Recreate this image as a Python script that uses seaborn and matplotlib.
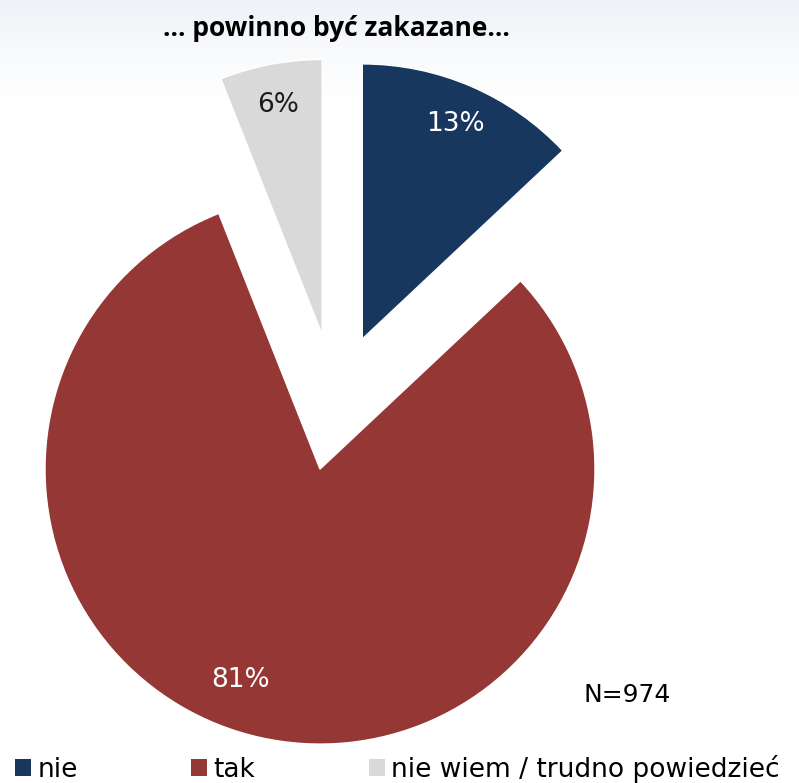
import numpy as np
import matplotlib
matplotlib.use("Agg")
import matplotlib.pyplot as plt
import seaborn as sns
from matplotlib.patches import Patch

sns.set_style("white")
plt.rcParams['font.family'] = ['DejaVu Sans']

# data
categories = ['nie', 'tak', 'nie wiem / trudno powiedzieć']
shares = [13, 81, 6]
colors = ['#17375e', '#953735', '#d9d9d9']
label_colors = ['white', 'white', '#1a1a1a']
title = '… powinno być zakazane…'
sample_note = 'N=974'

W, H = 799, 783
fig = plt.figure(figsize=(W / 100, H / 100), dpi=100)

# faint gradient band at the top, like the slide background
bg = fig.add_axes([0, 0, 1, 1])
grad = np.linspace(0, 1, 200).reshape(-1, 1)
alpha = np.clip(1 - grad / 0.13, 0, 1) ** 1.2
rgba = np.zeros((200, 1, 4))
rgba[..., 0] = 0.91
rgba[..., 1] = 0.93
rgba[..., 2] = 0.96
rgba[..., 3] = alpha * 0.7
bg.imshow(rgba, aspect='auto', extent=[0, 1, 0, 1])
bg.set_axis_off()

ax = fig.add_axes([0, 0, 1, 1])
r = 275.0
cx, cy = 335.0, 402.0
wedges, texts, autotexts = ax.pie(
    shares, colors=colors, startangle=90, counterclock=False,
    explode=[0.25] * 3, radius=1.0,
    autopct=lambda p: f'{p:.0f}%', pctdistance=0.85,
    textprops={'fontsize': 19},
)
for t, c in zip(autotexts, label_colors):
    t.set_color(c)

# the big slice's label sits a bit further round, as in the original
w = wedges[1]
ang = np.deg2rad((w.theta1 + w.theta2) / 2 - 8)
ox, oy = w.center
autotexts[1].set_position((ox + 0.82 * np.cos(ang), oy + 0.82 * np.sin(ang)))

ax.set_xlim(-cx / r, (W - cx) / r)
ax.set_ylim(-(H - cy) / r, cy / r)
ax.set_aspect('auto')
ax.set_axis_off()

fig.text(336 / W, 1 - 28 / H, title, ha='center', va='center', color='black',
         fontsize=19, fontweight='bold', family=['Open Sans', 'DejaVu Sans'])
fig.text(627 / W, 1 - 695 / H, sample_note, ha='center', va='center',
         fontsize=18, color='black')

handles = [Patch(facecolor=c, edgecolor='none') for c in colors]
leg = fig.legend(handles, categories, loc='lower left', bbox_to_anchor=(-0.011, -0.03),
                 ncol=3, frameon=False, fontsize=19, handlelength=0.6, handleheight=0.6,
                 handletextpad=0.25, columnspacing=4.3)
for t in leg.get_texts():
    t.set_color('black')

fig.savefig('out.png', dpi=100)
